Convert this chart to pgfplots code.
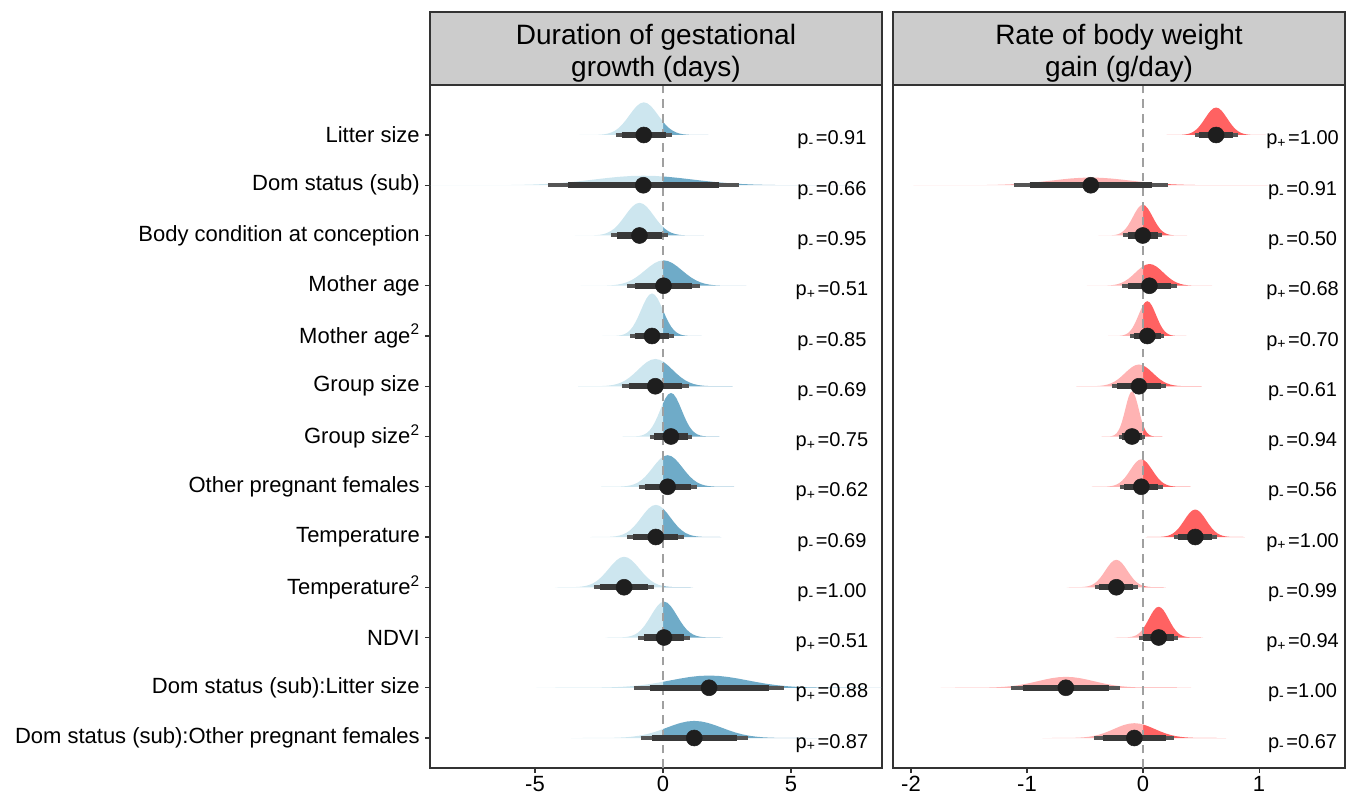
\documentclass[border=0pt]{standalone}
\usepackage{pgfplots}
\pgfplotsset{compat=1.18}
\usepgfplotslibrary{fillbetween}
\usepackage{pgfplotstable}
\usepackage{fontspec}
\setmainfont{Liberation Sans}

\definecolor{lb}{HTML}{CDE6EF}
\definecolor{db}{HTML}{6FABC8}
\definecolor{lr}{HTML}{FFB3B3}
\definecolor{dr}{HTML}{FF6262}
\definecolor{frame}{HTML}{333333}
\definecolor{strip}{HTML}{CCCCCC}
\definecolor{thinc}{HTML}{555555}
\definecolor{thickc}{HTML}{383838}
\definecolor{ptc}{HTML}{1E1E1E}
\definecolor{zeroc}{HTML}{A0A0A0}

% standard density shape (peak = 1), k in units of sd
\pgfplotstableread{
k f
-4.5 0.00004
-4.25 0.00012
-4 0.00034
-3.75 0.00089
-3.5 0.00219
-3.25 0.00508
-3 0.01111
-2.75 0.02279
-2.5 0.04394
-2.25 0.07956
-2 0.13534
-1.75 0.21627
-1.5 0.32465
-1.25 0.45783
-1 0.60653
-0.75 0.75484
-0.5 0.88250
-0.25 0.96923
0 1
0.25 0.96923
0.5 0.88250
0.75 0.75484
1 0.60653
1.25 0.45783
1.5 0.32465
1.75 0.21627
2 0.13534
2.25 0.07956
2.5 0.04394
2.75 0.02279
3 0.01111
3.25 0.00508
3.5 0.00219
3.75 0.00089
4 0.00034
4.25 0.00012
4.5 0.00004
}\shape

% #1 id, #2 row, #3 mean, #4 sd, #5 height, #6 light colour, #7 dark colour
\newcommand\dens[7]{%
  \addplot[draw=none, name path=d#1] table[x expr={#3+#4*\thisrow{k}}, y expr={#2+#5*\thisrow{f}}] {\shape};
  \addplot[draw=none, name path=b#1] table[x expr={#3+#4*\thisrow{k}}, y expr={#2}] {\shape};
  \addplot[fill=#7, draw=none] fill between[of=d#1 and b#1, soft clip={domain=0:30}];
  \addplot[fill=#6, draw=none] fill between[of=d#1 and b#1, soft clip={domain=-30:0}];
}
% #1 row, #2 mean, #3 sd
\newcommand\intv[3]{%
  \pgfmathsetmacro\iva{#2-1.96*#3}%
  \pgfmathsetmacro\ivb{#2+1.96*#3}%
  \pgfmathsetmacro\ivc{#2-1.55*#3}%
  \pgfmathsetmacro\ivd{#2+1.55*#3}%
  \addplot[thinc, line width=3pt, line cap=butt] coordinates {(\iva,#1) (\ivb,#1)};
  \addplot[thickc, line width=4.8pt, line cap=butt] coordinates {(\ivc,#1) (\ivd,#1)};
  \addplot[only marks, mark=*, mark size=6pt, mark options={fill=ptc, draw=ptc}] coordinates {(#2,#1)};
}

\pgfplotsset{panel/.style={
  scale only axis, width=339pt, height=512.25pt, anchor=south west,
  ymin=0.403, ymax=13.995,
  axis line style={frame, line width=0.9pt},
  tick style={frame, line width=0.8pt},
  tick align=outside, major tick length=3.75pt,
  xtick pos=bottom, ytick pos=left,
  xticklabel style={font=\fontsize{16.5}{18}\selectfont, inner sep=0pt, yshift=-2pt},
  yticklabel style={font=\fontsize{16.5}{18}\selectfont, inner sep=3.75pt},
  clip=true,
}}

\newcommand\plab[3]{\node[anchor=base, font=\fontsize{15}{17}\selectfont, yshift=-7.5pt] at (axis cs:#1,#2) {#3};}
\newcommand\pneg[1]{p\textsubscript{-}\hspace{1.5pt}=#1}
\newcommand\ppos[1]{p\textsubscript{+}\hspace{1.5pt}=#1}

\begin{document}
\begin{tikzpicture}
\path (0,0) rectangle (1009.5pt,600.75pt);

\begin{axis}[panel, at={(322.5pt,24.75pt)},
  xmin=-9.102, xmax=8.555,
  xtick={-5,0,5}, xticklabels={-5,0,5},
  ytick={1,2,3,4,5,6,7,8,9,10,11,12,13},
  yticklabels={Dom status (sub):Other pregnant females, Dom status (sub):Litter size, NDVI, Temperature\textsuperscript{2}, Temperature, Other pregnant females, Group size\textsuperscript{2}, Group size, Mother age\textsuperscript{2}, Mother age, Body condition at conception, Dom status (sub), Litter size},
]
\dens{L13}{13}{-0.75}{0.56}{0.65}{lb}{db}
\dens{L12}{12}{-0.77}{1.9}{0.19}{lb}{db}
\dens{L11}{11}{-0.92}{0.56}{0.65}{lb}{db}
\dens{L10}{10}{0.02}{0.72}{0.506}{lb}{db}
\dens{L9}{9}{-0.43}{0.43}{0.847}{lb}{db}
\dens{L8}{8}{-0.30}{0.67}{0.543}{lb}{db}
\dens{L7}{7}{0.31}{0.42}{0.867}{lb}{db}
\dens{L6}{6}{0.18}{0.58}{0.628}{lb}{db}
\dens{L5}{5}{-0.28}{0.57}{0.64}{lb}{db}
\dens{L4}{4}{-1.52}{0.60}{0.607}{lb}{db}
\dens{L3}{3}{0.04}{0.51}{0.714}{lb}{db}
\dens{L2}{2}{1.80}{1.50}{0.243}{lb}{db}
\dens{L1}{1}{1.22}{1.07}{0.34}{lb}{db}
\addplot[zeroc, line width=1.6pt, dash pattern=on 6.5pt off 4.5pt] coordinates {(0,0.403) (0,13.995)};
\intv{13}{-0.75}{0.56}
\intv{12}{-0.77}{1.9}
\intv{11}{-0.92}{0.56}
\intv{10}{0.02}{0.72}
\intv{9}{-0.43}{0.43}
\intv{8}{-0.30}{0.67}
\intv{7}{0.31}{0.42}
\intv{6}{0.18}{0.58}
\intv{5}{-0.28}{0.57}
\intv{4}{-1.52}{0.60}
\intv{3}{0.04}{0.51}
\intv{2}{1.80}{1.50}
\intv{1}{1.22}{1.07}
\plab{6.6}{13}{\pneg{0.91}}
\plab{6.6}{12}{\pneg{0.66}}
\plab{6.6}{11}{\pneg{0.95}}
\plab{6.6}{10}{\ppos{0.51}}
\plab{6.6}{9}{\pneg{0.85}}
\plab{6.6}{8}{\pneg{0.69}}
\plab{6.6}{7}{\ppos{0.75}}
\plab{6.6}{6}{\ppos{0.62}}
\plab{6.6}{5}{\pneg{0.69}}
\plab{6.6}{4}{\pneg{1.00}}
\plab{6.6}{3}{\ppos{0.51}}
\plab{6.6}{2}{\ppos{0.88}}
\plab{6.6}{1}{\ppos{0.87}}
\end{axis}

\begin{axis}[panel, at={(669.75pt,24.75pt)},
  xmin=-2.155, xmax=1.741,
  xtick={-2,-1,0,1}, xticklabels={-2,-1,0,1},
  ytick=\empty,
]
\dens{R13}{13}{0.63}{0.095}{0.547}{lr}{dr}
\dens{R12}{12}{-0.45}{0.34}{0.153}{lr}{dr}
\dens{R11}{11}{-0.002}{0.085}{0.612}{lr}{dr}
\dens{R10}{10}{0.055}{0.12}{0.433}{lr}{dr}
\dens{R9}{9}{0.037}{0.075}{0.693}{lr}{dr}
\dens{R8}{8}{-0.035}{0.12}{0.433}{lr}{dr}
\dens{R7}{7}{-0.095}{0.058}{0.897}{lr}{dr}
\dens{R6}{6}{-0.015}{0.095}{0.547}{lr}{dr}
\dens{R5}{5}{0.45}{0.095}{0.547}{lr}{dr}
\dens{R4}{4}{-0.23}{0.095}{0.547}{lr}{dr}
\dens{R3}{3}{0.135}{0.085}{0.612}{lr}{dr}
\dens{R2}{2}{-0.665}{0.24}{0.217}{lr}{dr}
\dens{R1}{1}{-0.075}{0.176}{0.295}{lr}{dr}
\addplot[zeroc, line width=1.6pt, dash pattern=on 6.5pt off 4.5pt] coordinates {(0,0.403) (0,13.995)};
\intv{13}{0.63}{0.095}
\intv{12}{-0.45}{0.34}
\intv{11}{-0.002}{0.085}
\intv{10}{0.055}{0.12}
\intv{9}{0.037}{0.075}
\intv{8}{-0.035}{0.12}
\intv{7}{-0.095}{0.058}
\intv{6}{-0.015}{0.095}
\intv{5}{0.45}{0.095}
\intv{4}{-0.23}{0.095}
\intv{3}{0.135}{0.085}
\intv{2}{-0.665}{0.24}
\intv{1}{-0.075}{0.176}
\plab{1.375}{13}{\ppos{1.00}}
\plab{1.375}{12}{\pneg{0.91}}
\plab{1.375}{11}{\pneg{0.50}}
\plab{1.375}{10}{\ppos{0.68}}
\plab{1.375}{9}{\ppos{0.70}}
\plab{1.375}{8}{\pneg{0.61}}
\plab{1.375}{7}{\pneg{0.94}}
\plab{1.375}{6}{\pneg{0.56}}
\plab{1.375}{5}{\ppos{1.00}}
\plab{1.375}{4}{\pneg{0.99}}
\plab{1.375}{3}{\ppos{0.94}}
\plab{1.375}{2}{\pneg{1.00}}
\plab{1.375}{1}{\pneg{0.67}}
\end{axis}

\draw[frame, line width=0.9pt, fill=strip] (322.5pt,537pt) rectangle (661.5pt,591.75pt);
\node[align=center, font=\fontsize{21}{24}\selectfont] at (492pt,560.6pt) {Duration of gestational\\growth (days)};
\draw[frame, line width=0.9pt, fill=strip] (669.75pt,537pt) rectangle (1008.75pt,591.75pt);
\node[align=center, font=\fontsize{21}{24}\selectfont] at (839.25pt,560.6pt) {Rate of body weight\\gain (g/day)};
\end{tikzpicture}
\end{document}
